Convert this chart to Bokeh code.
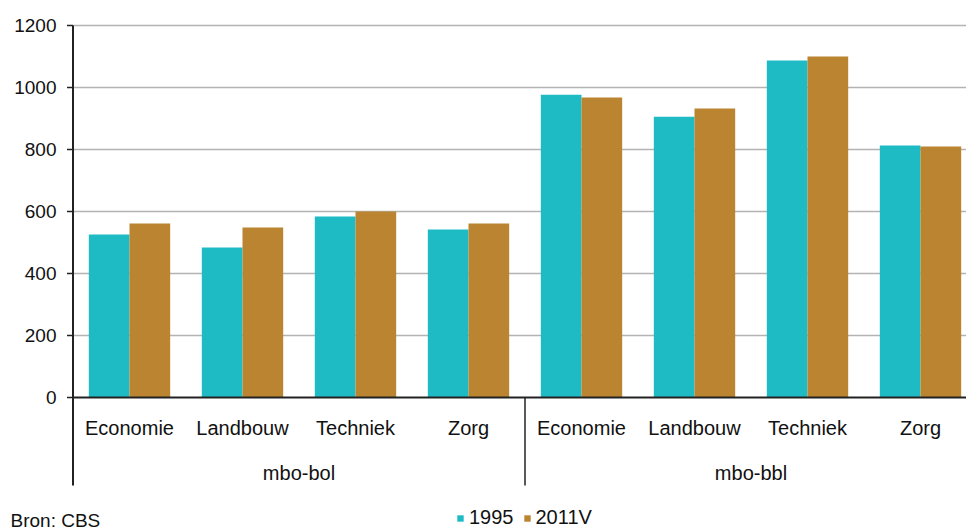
from bokeh.plotting import figure
from bokeh.models import ColumnDataSource, Range1d, Legend, LegendItem
from bokeh.core.properties import value
from bokeh.embed import file_html
from bokeh.resources import INLINE

# --- data ---
groups = ["mbo-bol", "mbo-bbl"]
categories = ["Economie", "Landbouw", "Techniek", "Zorg"]
series_names = ["1995", "2011V"]
values_1995 = [526, 484, 584, 542, 977, 906, 1087, 813]
values_2011 = [561, 548, 600, 561, 968, 932, 1100, 810]
y_ticks = [0, 200, 400, 600, 800, 1000, 1200]
source_note = "Bron: CBS"

COL_1995 = "#1EBBC5"
COL_2011 = "#BA8430"
FONT = "Liberation Sans"
INK = "#111111"
AXIS = "#222222"

W, H = 966, 530
PX_X = 113.0          # pixels per category
PX_Y = 0.31           # pixels per unit
X0_PX, Y0_PX = 72.5, 397.0

n_cat = len(groups) * len(categories)
centers = [i + 0.5 for i in range(n_cat)]
bar_w = 0.36
off = 0.18

x_start = -X0_PX / PX_X
x_end = (W - X0_PX) / PX_X
y_end = Y0_PX / PX_Y
y_start = -(H - Y0_PX) / PX_Y
y_axis_bottom = -(485 - Y0_PX) / PX_Y

src = ColumnDataSource(dict(
    x1=[c - off for c in centers],
    x2=[c + off for c in centers],
    v1=values_1995,
    v2=values_2011,
))

p = figure(width=W, height=H, output_backend="svg", toolbar_location=None,
           x_range=Range1d(x_start, x_end), y_range=Range1d(y_start, y_end),
           min_border=0)
p.outline_line_color = None
p.axis.visible = False
p.grid.visible = False

# gridlines (at the y tick values)
grid_y = [t for t in y_ticks if t != 0]
p.segment(x0=[0] * len(grid_y), y0=grid_y, x1=[x_end] * len(grid_y), y1=grid_y,
          line_color="#b3b3b3", line_width=1.5)

r1 = p.vbar(x="x1", top="v1", width=bar_w, bottom=0, source=src, fill_color=COL_1995, line_color=None)
r2 = p.vbar(x="x2", top="v2", width=bar_w, bottom=0, source=src, fill_color=COL_2011, line_color=None)

# baseline and y axis line
p.segment(x0=[0], y0=[0], x1=[x_end], y1=[0], line_color=AXIS, line_width=2)
p.segment(x0=[0], y0=[y_axis_bottom], x1=[0], y1=[y_ticks[-1]], line_color=AXIS, line_width=2)
# y ticks and labels
tick_len = 6 / PX_X
p.segment(x0=[-tick_len] * len(y_ticks), y0=y_ticks, x1=[0] * len(y_ticks), y1=y_ticks,
          line_color=AXIS, line_width=1.5)
p.text(x=[-16.5 / PX_X] * len(y_ticks), y=y_ticks, text=[str(t) for t in y_ticks],
       text_font=value(FONT), text_font_size="19px", text_align="right", text_baseline="middle",
       text_color=INK)

# separator between groups
p.segment(x0=[len(categories)], y0=[0], x1=[len(categories)], y1=[y_axis_bottom],
          line_color=AXIS, line_width=1.5)

# category labels
cat_labels = categories * len(groups)
p.text(x=centers, y=[-(427 - Y0_PX) / PX_Y] * n_cat, text=cat_labels, text_font=value(FONT),
       text_font_size="20px", text_align="center", text_baseline="middle", text_color=INK)
grp_x = [len(categories) * (g + 0.5) for g in range(len(groups))]
p.text(x=grp_x, y=[-(472 - Y0_PX) / PX_Y] * len(groups), text=groups, text_font=value(FONT),
       text_font_size="20px", text_align="center", text_baseline="middle", text_color=INK)

# source note
p.text(x=[(10 - X0_PX) / PX_X], y=[-(509 - Y0_PX) / PX_Y], text=[source_note], text_font=value(FONT),
       text_font_size="19px", text_align="left", text_baseline="top", text_color=INK)

legend = Legend(items=[LegendItem(label=series_names[0], renderers=[r1]),
                       LegendItem(label=series_names[1], renderers=[r2])],
                location=(456, 1), orientation="horizontal",
                glyph_width=8, glyph_height=8, label_standoff=5, spacing=9,
                padding=0, margin=0, border_line_alpha=0, background_fill_alpha=0,
                label_text_font=FONT, label_text_font_size="20px", label_text_color=INK)
p.add_layout(legend)

open("out.html", "w").write(file_html(p, INLINE))
